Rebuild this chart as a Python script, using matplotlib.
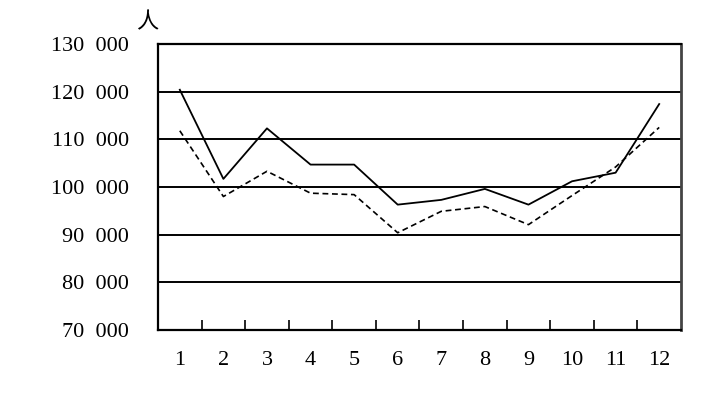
import numpy as np
import matplotlib.pyplot as plt

# ---- data ----
months = list(range(1, 13))
solid_vals = [120400, 101700, 112300, 104700, 104700, 96300,
              97300, 99600, 96300, 101200, 103000, 117400]
dashed_vals = [111800, 98000, 103300, 98700, 98400, 90400,
               94900, 95900, 92100, 98200, 104200, 112500]
y_ticks = [70000, 80000, 90000, 100000, 110000, 120000, 130000]
y_labels = ["70  000", "80  000", "90  000", "100  000",
            "110  000", "120  000", "130  000"]
unit_label = "人"

plt.rcParams["font.family"] = ["Liberation Serif", "Noto Sans CJK SC"]

fig = plt.figure(figsize=(7.07, 4.07), dpi=100)
ax = fig.add_axes([0.2235, 0.1892, 0.7397, 0.7027])

# horizontal grid lines
for v in y_ticks[1:-1]:
    ax.axhline(v, color="black", lw=1.4, zorder=1)

ax.plot(months, solid_vals, color="black", lw=1.3, zorder=3)
ax.plot(months, dashed_vals, color="black", lw=1.2,
        linestyle=(0, (3.5, 2.2)), zorder=3)

ax.set_xlim(0.5, 12.5)
ax.set_ylim(70000, 130000)

ax.set_xticks(months)
ax.set_xticklabels([str(m) for m in months], fontsize=16)
ax.set_xticks(np.arange(1.5, 12.5, 1.0), minor=True)
ax.tick_params(axis="x", which="major", length=0, pad=15)
ax.tick_params(axis="x", which="minor", direction="in", length=7, width=1.2)

ax.set_yticks(y_ticks)
ax.set_yticklabels(y_labels, fontsize=16)
ax.tick_params(axis="y", length=0, pad=21)

for side in ["left", "bottom", "top"]:
    ax.spines[side].set_linewidth(1.6)
ax.spines["right"].set_linewidth(2.0)
ax.spines["right"].set_color("#444444")

fig.text(147 / 707, 1 - 22 / 407, unit_label, fontsize=16,
         family=["Noto Sans CJK SC", "DejaVu Sans"],
         ha="center", va="center")

fig.savefig("out.png", dpi=100)
